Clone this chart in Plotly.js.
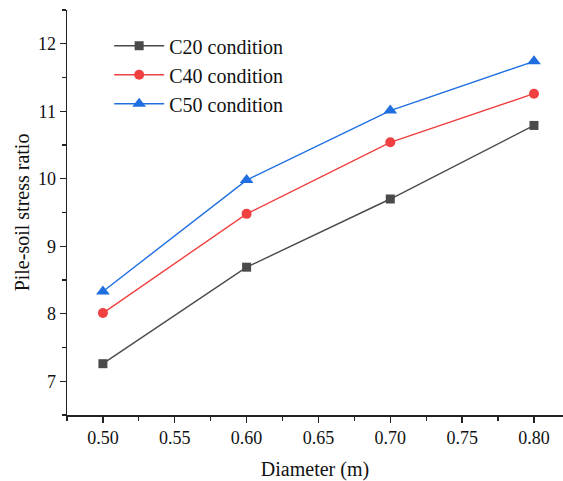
<!DOCTYPE html>
<html>
<head>
<meta charset="utf-8">
<script src="https://cdn.plot.ly/plotly-3.0.1.min.js"></script>
<style>
  html, body { margin: 0; padding: 0; background: #fff; }
  #chart { width: 563px; height: 481px; }
</style>
</head>
<body>
<div id="chart"></div>
<script>
// Pile diameter (m)
const diameters = [0.50, 0.60, 0.70, 0.80];

// Pile-soil stress ratio for each concrete grade
const c20Ratio = [7.26, 8.69, 9.70, 10.79];
const c40Ratio = [8.01, 9.48, 10.54, 11.26];
const c50Ratio = [8.33, 9.98, 11.01, 11.74];

const seriesNames = ['C20 condition', 'C40 condition', 'C50 condition'];

const serif = 'Liberation Serif';

function series(name, y, color, symbol, size) {
  return {
    x: diameters,
    y: y,
    name: name,
    type: 'scatter',
    mode: 'lines+markers',
    line: { color: color, width: 1.4 },
    marker: { color: color, symbol: symbol, size: size }
  };
}

const data = [
  series(seriesNames[0], c20Ratio, '#4a4a4a', 'square', 9),
  series(seriesNames[1], c40Ratio, '#f04040', 'circle', 10),
  series(seriesNames[2], c50Ratio, '#1f6fe0', 'triangle-up', 12)
];

const layout = {
  width: 563,
  height: 481,
  margin: { l: 67, r: 0, t: 10, b: 66 },
  paper_bgcolor: '#ffffff',
  plot_bgcolor: '#ffffff',
  font: { family: serif, color: '#111111', size: 18 },
  showlegend: true,
  legend: {
    x: 0.085,
    y: 0.96,
    xanchor: 'left',
    yanchor: 'top',
    bgcolor: 'rgba(0,0,0,0)',
    font: { family: serif, size: 20, color: '#111111' },
    tracegroupgap: 0,
    itemwidth: 50
  },
  xaxis: {
    range: [0.475, 0.8202],
    tickvals: [0.50, 0.55, 0.60, 0.65, 0.70, 0.75, 0.80],
    ticktext: ['0.50', '0.55', '0.60', '0.65', '0.70', '0.75', '0.80'],
    ticks: 'outside',
    ticklen: 6,
    tickwidth: 1.3,
    tickcolor: '#222',
    minor: { dtick: 0.025, tick0: 0.475, ticks: 'outside', ticklen: 4 },
    showline: true,
    linecolor: '#222',
    linewidth: 1.5,
    showgrid: false,
    zeroline: false,
    tickfont: { family: serif, size: 18, color: '#111111' },
    title: { text: 'Diameter (m)', font: { family: serif, size: 20 }, standoff: 15 }
  },
  yaxis: {
    range: [6.5, 12.5],
    dtick: 1,
    ticks: 'outside',
    ticklen: 6,
    tickwidth: 1.3,
    tickcolor: '#222',
    minor: { dtick: 0.5, ticks: 'outside', ticklen: 4 },
    showline: true,
    linecolor: '#222',
    linewidth: 1.5,
    showgrid: false,
    zeroline: false,
    tickfont: { family: serif, size: 18, color: '#111111' },
    title: { text: 'Pile-soil stress ratio', font: { family: serif, size: 20 }, standoff: 3 }
  }
};

Plotly.newPlot('chart', data, layout, { staticPlot: true, displayModeBar: false });
</script>
</body>
</html>
